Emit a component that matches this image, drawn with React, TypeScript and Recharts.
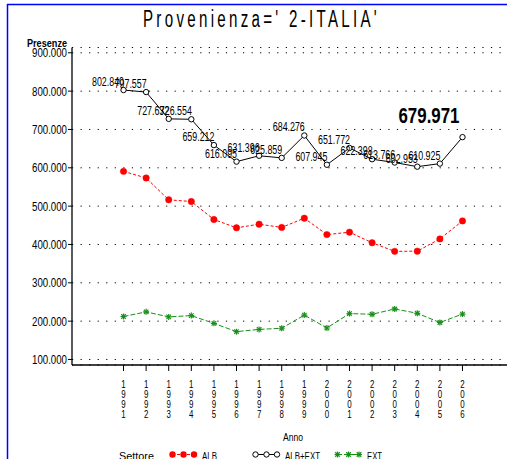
import React from "react";
import { LineChart, Line, XAxis, YAxis, CartesianGrid, LabelList } from "recharts";

const years = [1991, 1992, 1993, 1994, 1995, 1996, 1997, 1998, 1999, 2000, 2001, 2002, 2003, 2004, 2005, 2006];
const alb = [590.7, 573.4, 516.5, 512.0, 465.0, 443.5, 452.9, 444.5, 468.5, 425.8, 432.0, 404.5, 382.0, 382.5, 414.5, 461.5];
const ext = [212.1, 224.2, 211.1, 214.5, 194.2, 172.6, 178.5, 181.4, 215.8, 182.1, 219.8, 217.9, 231.8, 220.5, 196.4, 218.5];
const tot = [802.84, 797.557, 727.632, 726.554, 659.212, 616.095, 631.396, 625.859, 684.276, 607.945, 651.772, 622.398, 613.766, 602.953, 610.925, 679.971];
const totLabels = ["802.840", "797.557", "727.632", "726.554", "659.212", "616.095", "631.396", "625.859", "684.276", "607.945", "651.772", "622.398", "613.766", "602.953", "610.925", "679.971"];
const yTicks = [100, 200, 300, 400, 500, 600, 700, 800, 900];
const yTickLabels = ["100.000", "200.000", "300.000", "400.000", "500.000", "600.000", "700.000", "800.000", "900.000"];

const data = years.map((y, i) => ({ year: y, alb: alb[i], ext: ext[i], tot: tot[i], lbl: totLabels[i] }));

const yMinor: number[] = [];
for (let v = 120; v < 900; v += 20) if (v % 100 !== 0) yMinor.push(v);
const xMinor: number[] = [];
for (let y = years[0]; y < years[years.length - 1]; y++) for (let k = 1; k < 5; k++) xMinor.push(y + k / 5);

const FONT = "'Liberation Sans', Arial, sans-serif";
const RED = "#ff0000";
const GREEN = "#1a8f1a";
const X_DOMAIN: [number, number] = [1988.72, 2007.97];
const Y_DOMAIN: [number, number] = [85.6, 913.8];

const Empty = () => <g />;

const YTick = (props: any) => {
  const { x, y, payload } = props;
  const idx = yTicks.indexOf(payload.value);
  return (
    <text x={x + 1} y={y + 4.5} textAnchor="end" fontFamily={FONT} fontSize={12.5} fill="#000" textLength={35} lengthAdjust="spacingAndGlyphs">
      {yTickLabels[idx]}
    </text>
  );
};

const XTick = (props: any) => {
  const { x, y, payload } = props;
  const s = String(payload.value).split("");
  return (
    <g transform={`translate(${x},${y}) scale(0.72,1)`}>
      {s.map((c, i) => (
        <text key={i} x={0} y={15 + i * 10} textAnchor="middle" fontFamily={FONT} fontSize={11} fill="#000">
          {c}
        </text>
      ))}
    </g>
  );
};

const RedDot = (p: any) => <circle key={`r${p.index}`} cx={p.cx} cy={p.cy} r={3.2} fill={RED} stroke={RED} strokeWidth={0.5} />;
const BlackDot = (p: any) => <circle key={`b${p.index}`} cx={p.cx} cy={p.cy} r={2.7} fill="#fff" stroke="#000" strokeWidth={1} />;
const Star = ({ cx, cy, s = 3, k }: any) => (
  <g key={k} stroke={GREEN} strokeWidth={1.2}>
    <line x1={cx - s} y1={cy} x2={cx + s} y2={cy} />
    <line x1={cx} y1={cy - s} x2={cx} y2={cy + s} />
    <line x1={cx - s * 0.75} y1={cy - s * 0.75} x2={cx + s * 0.75} y2={cy + s * 0.75} />
    <line x1={cx - s * 0.75} y1={cy + s * 0.75} x2={cx + s * 0.75} y2={cy - s * 0.75} />
  </g>
);
const GreenDot = (p: any) => <Star k={`g${p.index}`} cx={p.cx} cy={p.cy} />;

const TotLabel = (props: any) => {
  const { x, y, value, index } = props;
  if (index === data.length - 1) {
    return (
      <text x={x - 3} y={y - 14} textAnchor="end" fontFamily={FONT} fontWeight="bold" fontSize={22} fill="#000" textLength={61} lengthAdjust="spacingAndGlyphs">
        {value}
      </text>
    );
  }
  return (
    <text x={x + 0.5} y={y - 4} textAnchor="end" fontFamily={FONT} fontSize={12} fill="#000" textLength={32} lengthAdjust="spacingAndGlyphs">
      {value}
    </text>
  );
};

export default function App() {
  return (
    <div style={{ position: "absolute", left: 0, top: 0, width: 507, height: 459, background: "#fff", overflow: "hidden" }}>
      <LineChart width={507} height={459} data={data} margin={{ top: 47.5, right: 0, bottom: 0, left: 0 }}>
        <CartesianGrid horizontal vertical={false} stroke="#000" strokeDasharray="1.2 7.35" />
        <XAxis xAxisId="top" orientation="top" dataKey="year" type="number" domain={X_DOMAIN} allowDataOverflow height={0} tick={false} tickLine={false} axisLine={{ stroke: "#000", strokeWidth: 1.3 }} />
        <XAxis xAxisId="minor" dataKey="year" type="number" domain={X_DOMAIN} allowDataOverflow ticks={xMinor} height={0} tick={Empty} tickSize={3} tickLine={{ stroke: "#000" }} axisLine={false} interval={0} />
        <XAxis dataKey="year" type="number" domain={X_DOMAIN} allowDataOverflow ticks={years} height={94} tick={XTick} tickSize={6} tickMargin={2} tickLine={{ stroke: "#000" }} axisLine={{ stroke: "#000", strokeWidth: 1.3 }} interval={0} />
        <YAxis yAxisId="minor" type="number" domain={Y_DOMAIN} allowDataOverflow ticks={yMinor} width={0} tick={Empty} tickSize={2} tickLine={{ stroke: "#000" }} axisLine={false} interval={0} />
        <YAxis type="number" domain={Y_DOMAIN} allowDataOverflow ticks={yTicks} width={72} tick={YTick} tickSize={4} tickMargin={2} tickLine={{ stroke: "#000" }} axisLine={{ stroke: "#000", strokeWidth: 1.3 }} interval={0} />
        <Line dataKey="alb" stroke={RED} strokeWidth={1} strokeDasharray="3 2" dot={RedDot} isAnimationActive={false} />
        <Line dataKey="ext" stroke={GREEN} strokeWidth={1} strokeDasharray="5 2" dot={GreenDot} isAnimationActive={false} />
        <Line dataKey="tot" stroke="#000" strokeWidth={1} dot={BlackDot} isAnimationActive={false}>
          <LabelList dataKey="lbl" content={TotLabel} />
        </Line>
      </LineChart>
      <svg width={507} height={459} style={{ position: "absolute", left: 0, top: 0, pointerEvents: "none" }}>
        <line x1={7.5} y1={4} x2={7.5} y2={459} stroke="#0000ff" strokeWidth={1.5} />
        <line x1={7} y1={4.5} x2={507} y2={4.5} stroke="#0000ff" strokeWidth={1.5} />
        <text x={143} y={27} fontFamily={FONT} fontSize={23} fill="#000" letterSpacing={5} textLength={237} lengthAdjust="spacingAndGlyphs">
          Provenienza=' 2-ITALIA'
        </text>
        <text x={27} y={47} fontFamily={FONT} fontSize={10} fontWeight="bold" fill="#000" textLength={40} lengthAdjust="spacingAndGlyphs">
          Presenze
        </text>
        <text x={283} y={441} fontFamily={FONT} fontSize={11} fill="#000" textLength={20} lengthAdjust="spacingAndGlyphs">
          Anno
        </text>
        <text x={119} y={460} fontFamily={FONT} fontSize={11} fill="#000" textLength={35} lengthAdjust="spacingAndGlyphs">
          Settore
        </text>
        <line x1={172} y1={454.5} x2={194} y2={454.5} stroke={RED} strokeDasharray="3 2" />
        <circle cx={172.5} cy={454.5} r={3.2} fill={RED} />
        <circle cx={183.5} cy={454.5} r={3.2} fill={RED} />
        <circle cx={194} cy={454.5} r={3.2} fill={RED} />
        <text x={202} y={460} fontFamily={FONT} fontSize={11} fill="#000" textLength={15} lengthAdjust="spacingAndGlyphs">
          ALB
        </text>
        <line x1={255} y1={454.5} x2={277} y2={454.5} stroke="#000" />
        <circle cx={255.5} cy={454.5} r={2.7} fill="#fff" stroke="#000" />
        <circle cx={266.5} cy={454.5} r={2.7} fill="#fff" stroke="#000" />
        <circle cx={277} cy={454.5} r={2.7} fill="#fff" stroke="#000" />
        <text x={285} y={460} fontFamily={FONT} fontSize={11} fill="#000" textLength={35} lengthAdjust="spacingAndGlyphs">
          ALB+EXT
        </text>
        <line x1={337} y1={454.5} x2={359} y2={454.5} stroke={GREEN} strokeDasharray="5 2" />
        <Star cx={337.5} cy={454.5} k="l1" />
        <Star cx={348.5} cy={454.5} k="l2" />
        <Star cx={359} cy={454.5} k="l3" />
        <text x={367} y={460} fontFamily={FONT} fontSize={11} fill="#000" textLength={15} lengthAdjust="spacingAndGlyphs">
          EXT
        </text>
      </svg>
    </div>
  );
}
